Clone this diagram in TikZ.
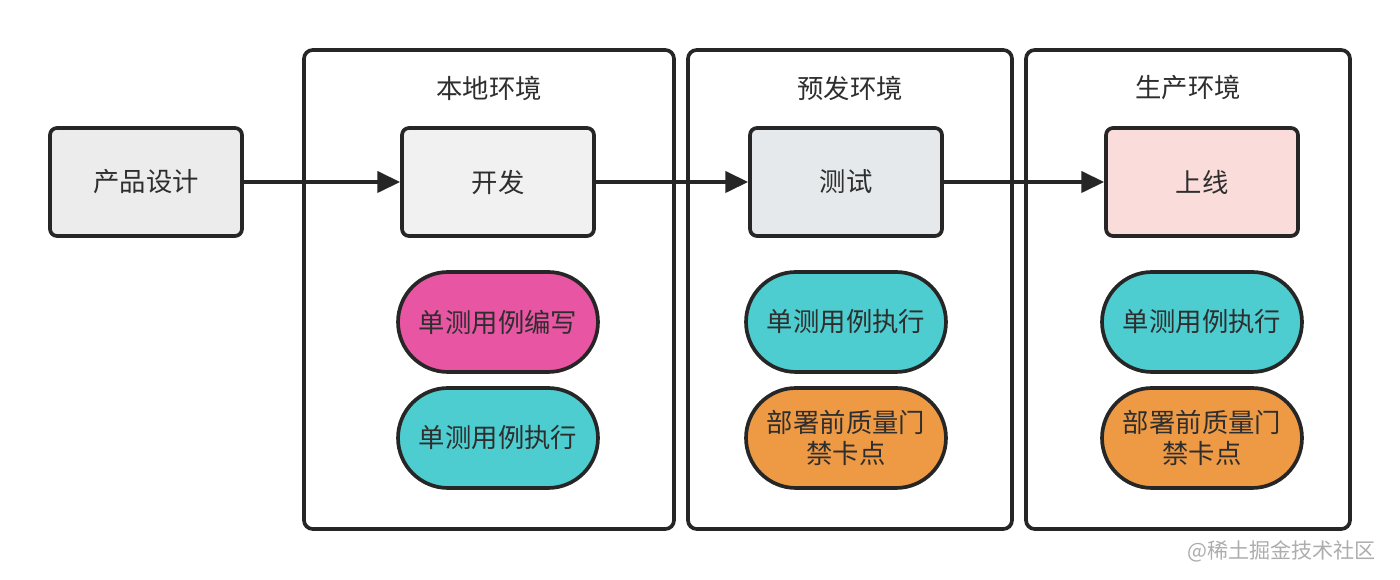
\documentclass[tikz,border=0pt]{standalone}
\usepackage{fontspec}
\setmainfont{Noto Sans CJK SC}
\usetikzlibrary{arrows.meta,shapes.misc}
\definecolor{edge}{HTML}{262626}
\definecolor{gbox}{HTML}{ECECEC}
\definecolor{devbox}{HTML}{F1F1F1}
\definecolor{testbox}{HTML}{E5E9EB}
\definecolor{livebox}{HTML}{FADCDB}
\definecolor{pink}{HTML}{E855A3}
\definecolor{cyanp}{HTML}{4ECDD0}
\definecolor{orangep}{HTML}{EE9A45}
\definecolor{txt}{HTML}{2E2E2E}
\tikzset{
  x=0.02cm, y=-0.02cm,
  frame/.style={draw=edge, line width=2.1pt, rounded corners=5pt, fill=white},
  card/.style={draw=edge, line width=2.1pt, rounded corners=4pt, minimum width=3.84cm, minimum height=2.16cm, inner sep=0pt, font=\fontsize{15}{18}\selectfont, text=txt},
  pill/.style={draw=edge, line width=2.1pt, rounded rectangle, minimum width=4cm, minimum height=2cm, inner sep=0pt, font=\fontsize{15}{17.5}\selectfont, text=txt, align=center},
  title/.style={font=\fontsize{15}{18}\selectfont, text=txt},
  flow/.style={draw=edge, line width=2.1pt, -{Triangle[length=13pt,width=12pt]}},
}
\begin{document}
\begin{tikzpicture}
\useasboundingbox (0,0) rectangle (1400,580);
% containers
\draw[frame] (304,50) rectangle (674,529);
\draw[frame] (688,50) rectangle (1012,529);
\draw[frame] (1026,50) rectangle (1350,529);
\node[title] (t1) at (489,88) {本地环境};
\node[title] (t2) at (850,88) {预发环境};
\node[title] (t3) at (1188,88) {生产环境};
% cards
\node[card, fill=gbox] (pd) at (146,182) {产品设计};
\node[card, fill=devbox] (dev) at (498,182) {开发};
\node[card, fill=testbox] (test) at (846,182) {测试};
\node[card, fill=livebox] (live) at (1202,182) {上线};
% pills
\node[pill, fill=pink] (p1) at (498,322) {单测用例编写};
\node[pill, fill=cyanp] (p2) at (498,438) {单测用例执行};
\node[pill, fill=cyanp] (p3) at (846,322) {单测用例执行};
\node[pill, fill=orangep] (p4) at (846,438) {部署前质量门\\禁卡点};
\node[pill, fill=cyanp] (p5) at (1202,322) {单测用例执行};
\node[pill, fill=orangep] (p6) at (1202,438) {部署前质量门\\禁卡点};
% arrows
\draw[flow] (pd) -- (dev);
\draw[flow] (dev) -- (test);
\draw[flow] (test) -- (live);
% watermark
\node[font=\fontsize{12}{14}\selectfont, text=black!32, anchor=east] (wm) at (1382,551) {@稀土掘金技术社区};
\end{tikzpicture}
\end{document}
